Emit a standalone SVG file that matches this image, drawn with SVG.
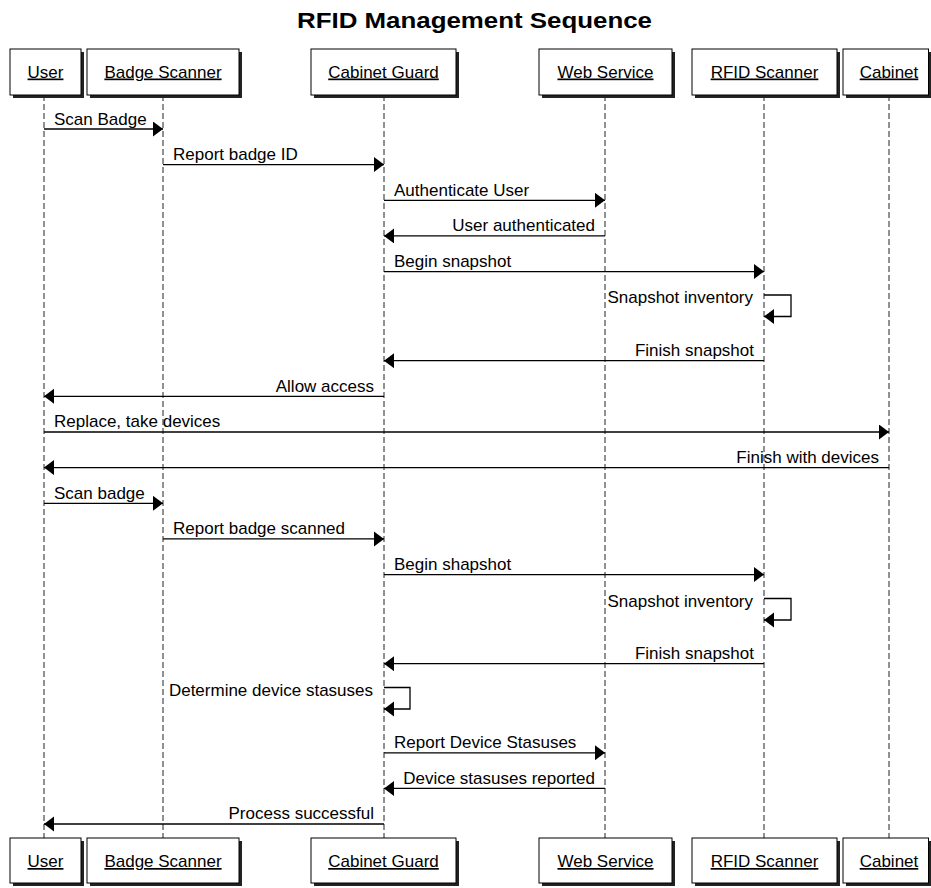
<svg xmlns="http://www.w3.org/2000/svg" width="931" height="888" viewBox="0 0 931 888">
<style>
  text { font-family: "Liberation Sans", Arial, sans-serif; font-size: 17px; fill: #000; }
  .title { font-size: 22px; font-weight: bold; }
  .box { fill: #fff; stroke: #000; stroke-width: 1; }
  .shadow { fill: #222; }
  .plabel { text-anchor: middle; text-decoration: underline; }
  .life { stroke: #222; stroke-width: 1; stroke-dasharray: 6 3; fill: none; }
  .msg { stroke: #000; stroke-width: 1.3; fill: none; marker-end: url(#ah); }
  .end { text-anchor: end; }
</style>
<defs>
  <marker id="ah" markerUnits="userSpaceOnUse" markerWidth="11" markerHeight="16" refX="10" refY="7.5" orient="auto">
    <path d="M0,0 L10,7.5 L0,15 Z" fill="#000"/>
  </marker>
</defs>
<rect width="931" height="888" fill="#fff"/>
<text class="title" x="297" y="28" textLength="355" lengthAdjust="spacingAndGlyphs">RFID Management Sequence</text>

<g id="user">
  <line class="life" x1="44" y1="95" x2="44" y2="838"/>
  <rect class="shadow" x="13" y="52" width="71" height="46"/>
  <rect class="box" x="10" y="49" width="71" height="46"/>
  <text class="plabel" x="45.5" y="77.5">User</text>
  <rect class="shadow" x="13" y="841" width="71" height="45"/>
  <rect class="box" x="10" y="838" width="71" height="45"/>
  <text class="plabel" x="45.5" y="867">User</text>
</g>
<g id="badge-scanner">
  <line class="life" x1="163" y1="95" x2="163" y2="838"/>
  <rect class="shadow" x="90" y="52" width="152" height="46"/>
  <rect class="box" x="87" y="49" width="152" height="46"/>
  <text class="plabel" x="163" y="77.5">Badge Scanner</text>
  <rect class="shadow" x="90" y="841" width="152" height="45"/>
  <rect class="box" x="87" y="838" width="152" height="45"/>
  <text class="plabel" x="163" y="867">Badge Scanner</text>
</g>
<g id="cabinet-guard">
  <line class="life" x1="384" y1="95" x2="384" y2="838"/>
  <rect class="shadow" x="314" y="52" width="145" height="46"/>
  <rect class="box" x="311" y="49" width="145" height="46"/>
  <text class="plabel" x="383.5" y="77.5">Cabinet Guard</text>
  <rect class="shadow" x="314" y="841" width="145" height="45"/>
  <rect class="box" x="311" y="838" width="145" height="45"/>
  <text class="plabel" x="383.5" y="867">Cabinet Guard</text>
</g>
<g id="web-service">
  <line class="life" x1="605" y1="95" x2="605" y2="838"/>
  <rect class="shadow" x="542" y="52" width="133" height="46"/>
  <rect class="box" x="539" y="49" width="133" height="46"/>
  <text class="plabel" x="605.5" y="77.5">Web Service</text>
  <rect class="shadow" x="542" y="841" width="133" height="45"/>
  <rect class="box" x="539" y="838" width="133" height="45"/>
  <text class="plabel" x="605.5" y="867">Web Service</text>
</g>
<g id="rfid-scanner">
  <line class="life" x1="764" y1="95" x2="764" y2="838"/>
  <rect class="shadow" x="695" y="52" width="145" height="46"/>
  <rect class="box" x="692" y="49" width="145" height="46"/>
  <text class="plabel" x="764.5" y="77.5">RFID Scanner</text>
  <rect class="shadow" x="695" y="841" width="145" height="45"/>
  <rect class="box" x="692" y="838" width="145" height="45"/>
  <text class="plabel" x="764.5" y="867">RFID Scanner</text>
</g>
<g id="cabinet">
  <line class="life" x1="889" y1="95" x2="889" y2="838"/>
  <rect class="shadow" x="846" y="52" width="86" height="46"/>
  <rect class="box" x="843" y="49" width="85.5" height="46"/>
  <text class="plabel" x="889" y="77.5">Cabinet</text>
  <rect class="shadow" x="846" y="841" width="86" height="45"/>
  <rect class="box" x="843" y="838" width="85.5" height="45"/>
  <text class="plabel" x="889" y="867">Cabinet</text>
</g>

<g id="connectors">
  <line class="msg" x1="44" y1="129" x2="163" y2="129"/>
  <text x="54" y="124.5">Scan Badge</text>

  <line class="msg" x1="163" y1="164.6" x2="384" y2="164.6"/>
  <text x="173" y="160">Report badge ID</text>

  <line class="msg" x1="384" y1="200.3" x2="605" y2="200.3"/>
  <text x="394" y="195.7">Authenticate User</text>

  <line class="msg" x1="605" y1="235.9" x2="384" y2="235.9"/>
  <text class="end" x="595" y="231.3">User authenticated</text>

  <line class="msg" x1="384" y1="271.6" x2="764" y2="271.6"/>
  <text x="394" y="267">Begin snapshot</text>

  <path class="msg" d="M764,295 H791 V316.5 H764"/>
  <text class="end" x="753" y="303">Snapshot inventory</text>

  <line class="msg" x1="764" y1="360.7" x2="384" y2="360.7"/>
  <text class="end" x="754" y="356.1">Finish snapshot</text>

  <line class="msg" x1="384" y1="396.3" x2="44" y2="396.3"/>
  <text class="end" x="374" y="391.7">Allow access</text>

  <line class="msg" x1="44" y1="432" x2="889" y2="432"/>
  <text x="54" y="427.4">Replace, take devices</text>

  <line class="msg" x1="889" y1="467.6" x2="44" y2="467.6"/>
  <text class="end" x="879" y="463">Finish with devices</text>

  <line class="msg" x1="44" y1="503.3" x2="163" y2="503.3"/>
  <text x="54" y="498.7">Scan badge</text>

  <line class="msg" x1="163" y1="538.9" x2="384" y2="538.9"/>
  <text x="173" y="534.3">Report badge scanned</text>

  <line class="msg" x1="384" y1="574.6" x2="764" y2="574.6"/>
  <text x="394" y="570">Begin shapshot</text>

  <path class="msg" d="M764,598.5 H791 V620 H764"/>
  <text class="end" x="753" y="606.5">Snapshot inventory</text>

  <line class="msg" x1="764" y1="663.7" x2="384" y2="663.7"/>
  <text class="end" x="754" y="659.1">Finish snapshot</text>

  <path class="msg" d="M384,687.5 H410 V709 H384"/>
  <text class="end" x="373" y="695.5">Determine device stasuses</text>

  <line class="msg" x1="384" y1="752.8" x2="605" y2="752.8"/>
  <text x="394" y="748.2">Report Device Stasuses</text>

  <line class="msg" x1="605" y1="788.4" x2="384" y2="788.4"/>
  <text class="end" x="595" y="783.8">Device stasuses reported</text>

  <line class="msg" x1="384" y1="824" x2="44" y2="824"/>
  <text class="end" x="374" y="819.4">Process successful</text>
</g>
</svg>
